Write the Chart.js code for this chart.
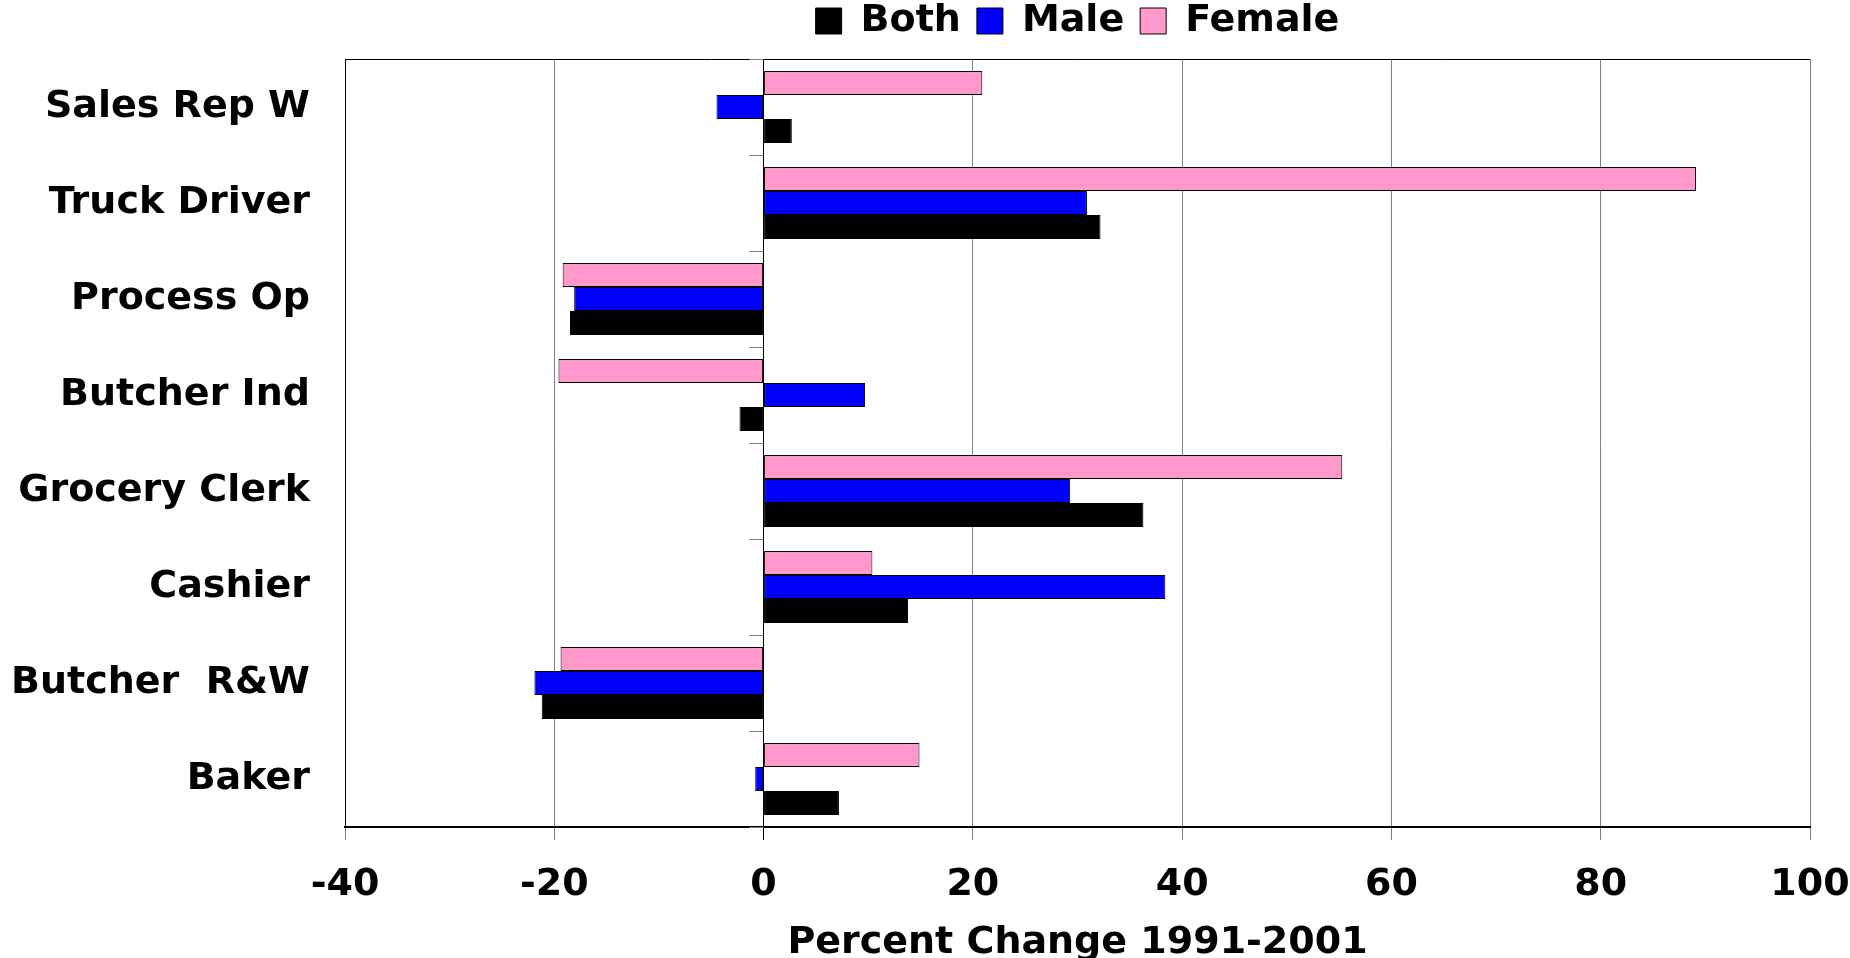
<!DOCTYPE html>
<html>
<head>
<meta charset="utf-8">
<title>Percent Change 1991-2001</title>
<script src="https://cdn.jsdelivr.net/npm/chart.js@4/dist/chart.umd.min.js"></script>
<style>
    html, body { margin: 0; padding: 0; background: #fff; }
    #box { width: 1850px; height: 958px; position: relative; }
</style>
</head>
<body>
<div id="box"><canvas id="myChart"></canvas></div>
<script>
// ocupacoes, de cima para baixo
var Ocupacoes = ['Sales Rep W', 'Truck Driver', 'Process Op', 'Butcher Ind', 'Grocery Clerk', 'Cashier', 'Butcher  R&W', 'Baker']

// variacao percentual 1991-2001
var Both = [2.7, 32.2, -18.5, -2.3, 36.3, 13.8, -21.2, 7.2]
var Male = [-4.5, 30.9, -18.1, 9.7, 29.3, 38.4, -21.9, -0.8]
var Female = [20.9, 89.1, -19.2, -19.6, 55.3, 10.4, -19.4, 14.9]

var EixoX = [-40, -20, 0, 20, 40, 60, 80, 100]

Chart.defaults.font.family = "'DejaVu Sans', sans-serif"
Chart.defaults.font.weight = 'bold'
Chart.defaults.color = '#000'

// borda de cima e da esquerda da area do grafico
var bordaArea = {
    id: 'bordaArea',
    beforeDatasetsDraw: function (chart) {
        var a = chart.chartArea
        var ctx = chart.ctx
        ctx.save()
        ctx.strokeStyle = '#000'
        ctx.lineWidth = 1
        ctx.beginPath()
        ctx.moveTo(a.left + 0.5, a.bottom)
        ctx.lineTo(a.left + 0.5, a.top + 0.5)
        ctx.lineTo(a.right, a.top + 0.5)
        ctx.stroke()
        ctx.restore()
    }
}

// tracinhos do eixo das categorias, junto ao zero
var tracosZero = {
    id: 'tracosZero',
    afterDatasetsDraw: function (chart) {
        var x0 = chart.scales.x.getPixelForValue(0)
        var y = chart.scales.y
        var ctx = chart.ctx
        ctx.save()
        ctx.strokeStyle = '#808080'
        ctx.lineWidth = 1
        ctx.beginPath()
        for (var i = 0; i <= Ocupacoes.length; i++) {
            var py = Math.round(y.getPixelForValue(i - 0.5)) + 0.5
            ctx.moveTo(x0 - 14, py)
            ctx.lineTo(x0, py)
        }
        ctx.stroke()
        ctx.restore()
    }
}

// legenda centrada sobre a area do grafico
var legendaCentro = {
    id: 'legendaCentro',
    afterLayout: function (chart) {
        var lg = chart.legend
        lg.left = chart.chartArea.left
        lg.right = chart.chartArea.right
        lg.width = lg.right - lg.left
        lg.top = -14
    }
}

var ctx = document.getElementById('myChart')

var myChart = new Chart(ctx, {
    type: 'bar',
    data: {
        labels: Ocupacoes,
        datasets: [{
            label: 'Female',
            data: Female,
            backgroundColor: '#FF99CC',
            borderColor: '#000',
            borderWidth: 1,
            borderSkipped: false
        }, {
            label: 'Male',
            data: Male,
            backgroundColor: '#0000FF',
            borderColor: '#000',
            borderWidth: 1,
            borderSkipped: false
        }, {
            label: 'Both',
            data: Both,
            backgroundColor: '#000000',
            borderColor: '#000',
            borderWidth: 1,
            borderSkipped: false
        }]
    },
    options: {
        indexAxis: 'y',
        responsive: true,
        maintainAspectRatio: false,
        animation: false,
        layout: { padding: { top: -5, left: 0, right: 0, bottom: 0 } },
        datasets: {
            bar: { categoryPercentage: 0.75, barPercentage: 1 }
        },
        plugins: {
            legend: {
                position: 'top',
                reverse: true,
                labels: {
                    boxWidth: 26,
                    boxHeight: 26,
                    padding: 16,
                    font: { size: 38, weight: 'bold' }
                }
            },
            tooltip: { enabled: false }
        },
        scales: {
            x: {
                min: -40,
                max: 100,
                afterBuildTicks: function (scale) {
                    scale.ticks = EixoX.map(function (v) { return { value: v } })
                },
                afterFit: function (scale) {
                    scale.height = 131
                    scale.paddingRight = 40
                },
                grid: {
                    color: function (c) { return c.tick && c.tick.value === 0 ? '#000' : '#808080' },
                    lineWidth: 1,
                    tickLength: 13
                },
                border: { color: '#000', width: 2 },
                ticks: {
                    padding: 22,
                    font: { size: 38, weight: 'bold' }
                },
                title: {
                    display: true,
                    text: 'Percent Change 1991-2001',
                    font: { size: 38, weight: 'bold', lineHeight: 0.76 },
                    padding: { top: 0, bottom: 0 }
                }
            },
            y: {
                afterFit: function (scale) { scale.width = 345 },
                grid: { display: false },
                border: { display: false },
                ticks: {
                    padding: 27,
                    font: { size: 38, weight: 'bold' }
                }
            }
        }
    },
    plugins: [bordaArea, tracosZero, legendaCentro]
})
</script>
</body>
</html>
